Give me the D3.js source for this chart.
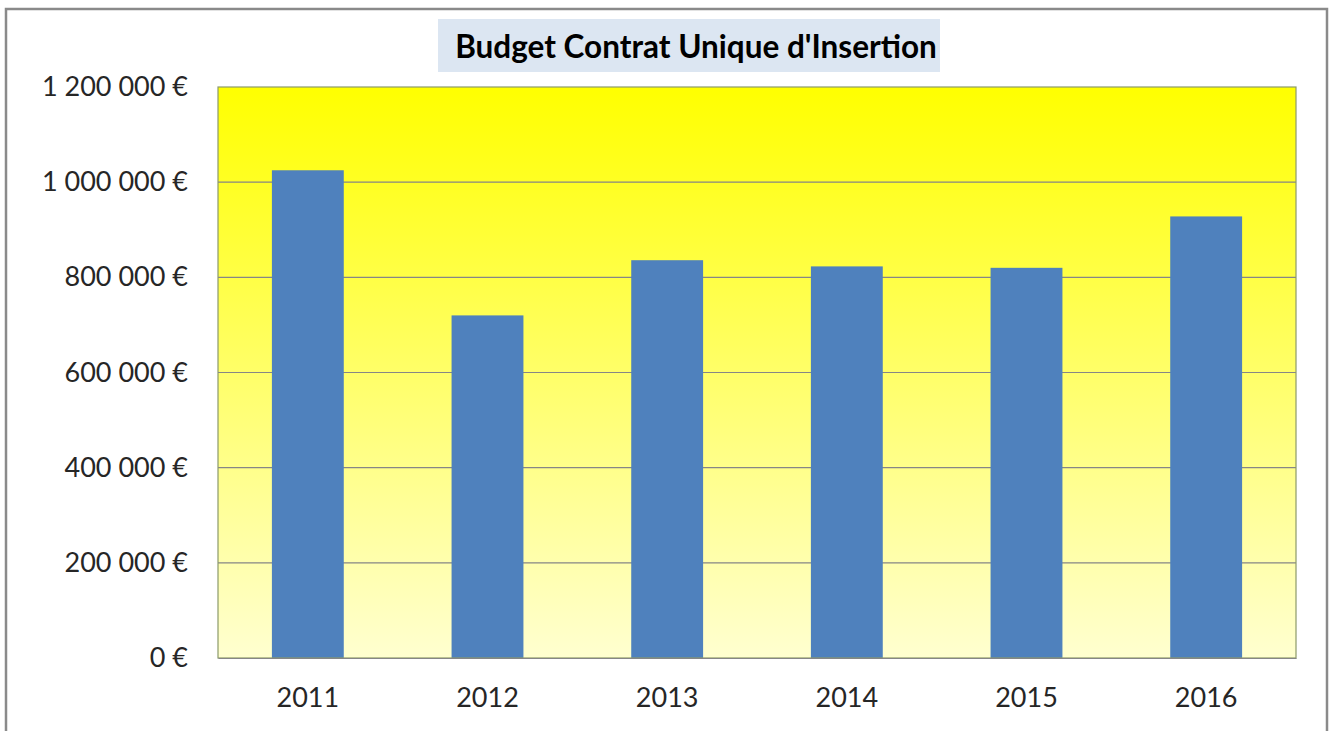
<!DOCTYPE html>
<html>
<head>
<meta charset="utf-8">
<script src="https://cdn.jsdelivr.net/npm/d3@7"></script>
<style>
  body { margin: 0; background: #fff; }
  text { font-family: Lato, "Open Sans", sans-serif; }
</style>
</head>
<body>
<div id="chart"></div>
<script>
// Chart data
const years = ["2011", "2012", "2013", "2014", "2015", "2016"];
const budget = [1025000, 720000, 836000, 823000, 820000, 928000];
const yTicks = [0, 200000, 400000, 600000, 800000, 1000000, 1200000];
const title = "Budget Contrat Unique d'Insertion";

const W = 1330, H = 731;
const margin = { top: 87, right: 34, bottom: 73, left: 218 };
const width = W - margin.left - margin.right;
const height = H - margin.top - margin.bottom;

const root = d3.select("#chart").append("svg")
    .attr("width", W)
    .attr("height", H);

// Outer chart frame
root.append("rect")
    .attr("x", 6).attr("y", 9)
    .attr("width", 1321).attr("height", 740)
    .attr("fill", "#fff")
    .attr("stroke", "#8a8a8a")
    .attr("stroke-width", 2.5);

// Plot area gradient
const grad = root.append("defs").append("linearGradient")
    .attr("id", "bg").attr("x1", 0).attr("y1", 0).attr("x2", 0).attr("y2", 1);
grad.append("stop").attr("offset", "0%").attr("stop-color", "#ffff00");
grad.append("stop").attr("offset", "100%").attr("stop-color", "#ffffd0");

const svg = root.append("g")
    .attr("transform", `translate(${margin.left},${margin.top})`);

svg.append("rect")
    .attr("width", width).attr("height", height)
    .attr("fill", "url(#bg)");

const x = d3.scaleBand()
    .domain(years)
    .range([0, width])
    .paddingInner(0.6)
    .paddingOuter(0.3);

const y = d3.scaleLinear()
    .domain([0, 1200000])
    .range([height, 0]);

const fmt = v => d3.format(",")(v).replace(/,/g, "\u00a0") + "\u00a0€";

// Gridlines
svg.selectAll(".grid")
    .data(yTicks.slice(1, -1))
    .enter().append("line")
    .attr("x1", 0).attr("x2", width)
    .attr("y1", d => y(d)).attr("y2", d => y(d))
    .attr("stroke", "#868686")
    .attr("stroke-width", 1.2);

// Bars
svg.selectAll(".bar")
    .data(years)
    .enter().append("rect")
    .attr("class", "bar")
    .attr("x", d => x(d))
    .attr("y", (d, i) => y(budget[i]))
    .attr("width", x.bandwidth())
    .attr("height", (d, i) => height - y(budget[i]))
    .attr("fill", "#4f81bd");

// Plot border
svg.append("rect")
    .attr("width", width).attr("height", height)
    .attr("fill", "none")
    .attr("stroke", "#8c9a6a")
    .attr("stroke-width", 1.2);

// Axes
const yAxis = svg.append("g")
    .call(d3.axisLeft(y).tickValues(yTicks).tickFormat(fmt).tickSize(0).tickPadding(30));
yAxis.select(".domain").remove();
yAxis.selectAll("text")
    .attr("font-size", 27)
    .attr("fill", "#262626");

const xAxis = svg.append("g")
    .attr("transform", `translate(0,${height})`)
    .call(d3.axisBottom(x).tickSize(0).tickPadding(30));
xAxis.select(".domain").attr("stroke", "#868686").attr("stroke-width", 1.2);
xAxis.selectAll("text")
    .attr("font-size", 27)
    .attr("fill", "#262626");

// Title
const titleG = root.append("g");
titleG.append("rect")
    .attr("x", 438).attr("y", 19)
    .attr("width", 502).attr("height", 53)
    .attr("fill", "#dce6f2");
titleG.append("text")
    .attr("x", 696).attr("y", 58)
    .attr("text-anchor", "middle")
    .attr("font-size", 31.5)
    .attr("font-weight", "bold")
    .attr("fill", "#000")
    .text(title);
</script>
</body>
</html>
